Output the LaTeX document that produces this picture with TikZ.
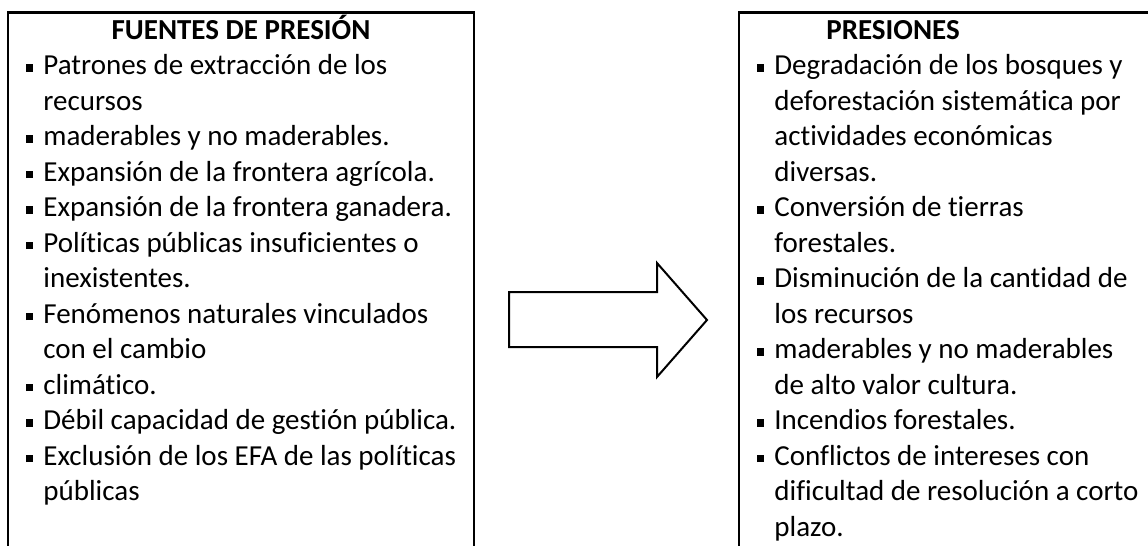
\documentclass[tikz,border=0pt]{standalone}
\usepackage{fontspec}
\setmainfont{Carlito}[Ligatures={NoCommon,NoContextual}]
\usepackage{tikz}

\newcommand{\bul}{\llap{\rule[1.6pt]{3.6pt}{3.7pt}\hspace{5pt}}}

\tikzset{
  frame/.style={line width=1.3pt},
  item/.style={anchor=base west, inner sep=0pt, font=\fontsize{14.5}{17}\selectfont},
  head/.style={anchor=base, inner sep=0pt, font=\fontsize{14.5}{17}\selectfont\bfseries}
}

\begin{document}
\begin{tikzpicture}[x=0.5pt, y=-0.5pt]
  \clip (0,0) rectangle (1148,546);
  \fill[white] (0,0) rectangle (1148,546);
  % boxes, open at the bottom
  \draw[frame] (8,560) -- (8,12.5) -- (474,12.5) -- (474,560);
  \draw[frame] (739,560) -- (739,12.5) -- (1160,12.5);
  % left column
  \node[head] (fuentes) at (241,39.3) {FUENTES DE PRESIÓN};
  \foreach \txt [count=\i] in {
    {\bul Patrones de extracción de los},
    {recursos},
    {\bul maderables y no maderables.},
    {\bul Expansión de la frontera agrícola.},
    {\bul Expansión de la frontera ganadera.},
    {\bul Políticas públicas insuficientes o},
    {inexistentes.},
    {\bul Fenómenos naturales vinculados},
    {con el cambio},
    {\bul climático.},
    {\bul Débil capacidad de gestión pública.},
    {\bul Exclusión de los EFA de las políticas},
    {públicas}}
    \node[item] (fu\i) at (43,39.3+\i*35.5) {\txt};
  % right column
  \node[head] (presiones) at (893,39.3) {PRESIONES};
  \foreach \txt [count=\i] in {
    {\bul Degradación de los bosques y},
    {deforestación sistemática por},
    {actividades económicas},
    {diversas.},
    {\bul Conversión de tierras},
    {forestales.},
    {\bul Disminución de la cantidad de},
    {los recursos},
    {\bul maderables y no maderables},
    {de alto valor cultura.},
    {\bul Incendios forestales.},
    {\bul Conflictos de intereses con},
    {dificultad de resolución a corto},
    {plazo.}}
    \node[item] (pr\i) at (774,39.3+\i*35.5) {\txt};
  % block arrow
  \draw[line width=1pt, line join=miter] (509,292) -- (657,292) -- (657,263) -- (707,320)
    -- (657,377) -- (657,347) -- (509,347) -- cycle;
\end{tikzpicture}
\end{document}
